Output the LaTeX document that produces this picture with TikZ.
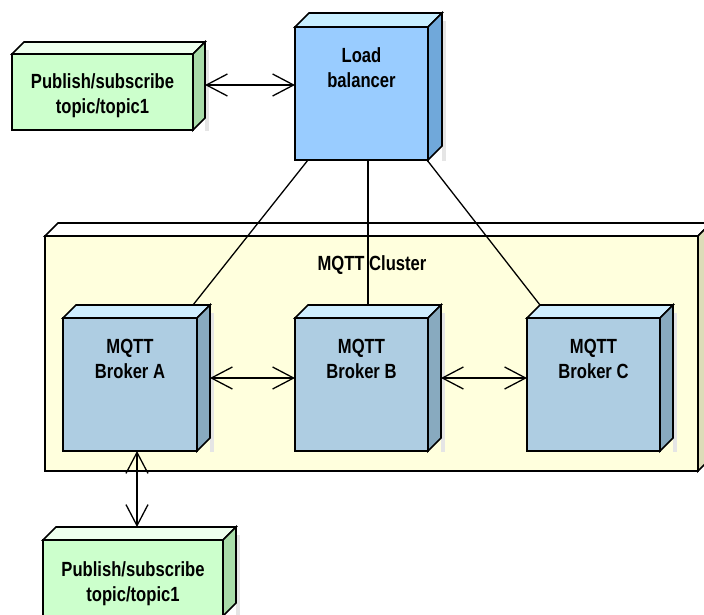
\documentclass[tikz,border=0pt]{standalone}
\usepackage{fontspec}
\setmainfont{Liberation Sans}[FakeStretch=0.81]
\usetikzlibrary{arrows.meta,calc}

\definecolor{pubfront}{HTML}{CCFFCC}
\definecolor{pubtop}{HTML}{EEFFEE}
\definecolor{pubside}{HTML}{A8DCA8}
\definecolor{lbfront}{HTML}{99CCFF}
\definecolor{lbtop}{HTML}{C8EEFF}
\definecolor{lbside}{HTML}{70A8DA}
\definecolor{brfront}{HTML}{AECDE2}
\definecolor{brtop}{HTML}{CFEEFF}
\definecolor{brside}{HTML}{88AABF}
\definecolor{clfront}{HTML}{FFFFDD}
\definecolor{cltop}{HTML}{FFFFFF}
\definecolor{clside}{HTML}{DCDCB8}

% 3D box: name, centre x, centre y, width, height, depth, front, top, side colours
\newcommand\solidbox[9]{%
  \node[face,minimum width=#4pt,minimum height=#5pt,fill=#7] (#1) at (#2,#3) {};
  \fill[boxshadow] ([shift={(#6,8-#6)}]#1.north east) rectangle ([shift={(#6+4,1)}]#1.south east);
  \draw[outline,fill=#8] (#1.north west) -- ++(#6,-#6) -- ([shift={(#6,-#6)}]#1.north east) -- (#1.north east) -- cycle;
  \draw[outline,fill=#9] (#1.north east) -- ++(#6,-#6) -- ([shift={(#6,-#6)}]#1.south east) -- (#1.south east) -- cycle;
}

\begin{document}
\begin{tikzpicture}[x=1pt,y=-1pt,
  outline/.style={draw=black,line width=1.6pt,line join=miter},
  face/.style={outline,inner sep=0pt,outer sep=0pt},
  boxlabel/.style={font=\fontsize{20.5}{25}\selectfont\bfseries,align=center,anchor=base,inner sep=0pt},
  link/.style={draw=black,line width=1.3pt},
  biarrow/.style={link,{Straight Barb[length=21pt,width=22pt]}-{Straight Barb[length=21pt,width=22pt]}},
  boxshadow/.style={fill=black!10}]
\useasboundingbox (0,0) rectangle (704,615);

% cluster container
\solidbox{cl}{371.5}{353.5}{653}{235}{13}{clfront}{cltop}{clside}
\node[boxlabel] (cltext) at (372,270) {MQTT Cluster};

% boxes
\solidbox{pub1}{102.5}{92}{181}{76}{12}{pubfront}{pubtop}{pubside}
\solidbox{lb}{361.5}{93.5}{133}{133}{14}{lbfront}{lbtop}{lbside}
\solidbox{ba}{130}{384.5}{134}{133}{13}{brfront}{brtop}{brside}
\solidbox{bb}{361.5}{384.5}{133}{133}{13}{brfront}{brtop}{brside}
\solidbox{bc}{593.5}{384.5}{133}{133}{13}{brfront}{brtop}{brside}
\solidbox{pub2}{133}{578}{180}{76}{13}{pubfront}{pubtop}{pubside}

% labels (anchored on the baseline of the last line)
\node[boxlabel] (pub1text) at (102.5,114) {Publish/subscribe\\topic/topic1};
\node[boxlabel] (lbtext) at (361.5,88) {Load\\balancer};
\node[boxlabel] (batext) at (130,378) {MQTT\\Broker A};
\node[boxlabel] (bbtext) at (361.5,378) {MQTT\\Broker B};
\node[boxlabel] (bctext) at (593.5,378) {MQTT\\Broker C};
\node[boxlabel] (pub2text) at (133,601) {Publish/subscribe\\topic/topic1};

% load balancer to brokers
\coordinate (lbB) at ([xshift=6.5pt]lb.south);
\coordinate (bbtop) at ([yshift=13pt]bb.north);
\draw[link] ([xshift=-53.5pt]lb.south) -- ([shift={(-4,-13)}]ba.north east);
\draw[link] (lbB) -- (lbB |- bbtop);
\draw[link] ([xshift=-1pt]lb.south east) -- ([shift={(13,-13)}]bc.north west);

% bidirectional links
\coordinate (p1) at ([shift={(12,-7)}]pub1.east);
\draw[biarrow] (p1) -- (p1 -| lb.west);
\coordinate (ab) at ([shift={(13,-6.5)}]ba.east);
\draw[biarrow] (ab) -- (ab -| bb.west);
\coordinate (bcx) at ([shift={(13,-6.5)}]bb.east);
\draw[biarrow] (bcx) -- (bcx -| bc.west);
\coordinate (av) at ([xshift=7pt]ba.south);
\coordinate (p2top) at ([yshift=13pt]pub2.north);
\draw[biarrow] (av) -- (av |- p2top);
\end{tikzpicture}
\end{document}
